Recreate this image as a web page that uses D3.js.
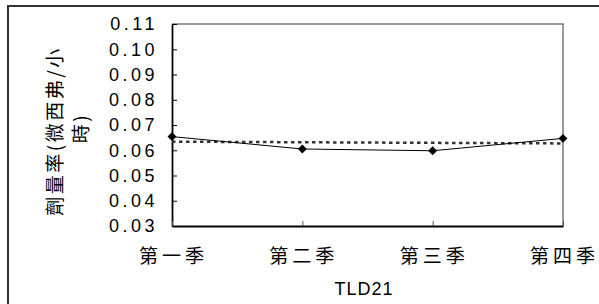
<html lang="zh-Hant">
<head>
<meta charset="utf-8">
<style>
	body { margin: 0; background: #fff; }
	svg { display: block; }
	text { fill: #000; }
</style>
</head>
<body>
<svg width="599" height="304"></svg>
<script src="https://d3js.org/d3.v7.min.js"></script>
<script>
	// data
	var quarters = ["第一季", "第二季", "第三季", "第四季"];
	var doseRate = [0.0654, 0.0605, 0.0598, 0.0647];
	// dashed reference line, start and end value
	var trendEnds = [0.0634, 0.0627];
	var yTicks = [0.03, 0.04, 0.05, 0.06, 0.07, 0.08, 0.09, 0.10, 0.11];
	var xTitle = "TLD21";
	var yTitleLines = ["劑量率(微西弗/小", "時)"];

	var svg = d3.select("svg");
	var plotL = 172, plotR = 563, plotT = 24, plotB = 226;
	var latinFont = "'Liberation Sans', Arial, sans-serif";
	var cjkFont = "'Noto Sans CJK TC', 'Liberation Sans', sans-serif";

	// outer chart border
	svg.append("rect")
	.attr("x", 8).attr("y", 6)
	.attr("width", 620).attr("height", 320)
	.attr("fill", "none")
	.attr("stroke", "#333")
	.attr("stroke-width", 2);

	var x = d3.scalePoint().domain(quarters).range([plotL, plotR]).padding(0);
	var y = d3.scaleLinear().domain([0.03, 0.11]).range([plotB, plotT]);

	// plot area frame (top and right edges)
	svg.append("path")
	.attr("d", "M" + plotL + "," + plotT + "H" + plotR + "V" + plotB)
	.attr("fill", "none")
	.attr("stroke", "#777")
	.attr("stroke-width", 1.5);

	// y axis
	var gy = svg.append("g")
	.attr("transform", "translate(" + plotL + ",0)")
	.call(d3.axisLeft(y).tickValues(yTicks)
		.tickFormat(d3.format(".2f"))
		.tickSizeInner(-5).tickSizeOuter(0).tickPadding(14));
	gy.select(".domain").attr("stroke", "#000").attr("stroke-width", 1.8);
	gy.selectAll(".tick line").attr("stroke", "#000").attr("stroke-width", 1);
	gy.selectAll(".tick text")
	.attr("font-family", latinFont)
	.attr("font-size", "18px")
	.attr("letter-spacing", "3.5px")
	.attr("fill", "#000");

	// x axis
	var gx = svg.append("g")
	.attr("transform", "translate(0," + plotB + ")")
	.call(d3.axisBottom(x).tickSizeInner(-5).tickSizeOuter(0).tickPadding(24));
	gx.select(".domain").attr("stroke", "#000").attr("stroke-width", 1.8);
	gx.selectAll(".tick line").attr("stroke", "#555").attr("stroke-width", 1);
	gx.selectAll(".tick text")
	.attr("font-family", cjkFont)
	.attr("font-size", "19px")
	.attr("letter-spacing", "4px")
	.attr("dx", "1px")
	.attr("fill", "#000");

	// dashed reference line
	svg.append("line")
	.attr("x1", x(quarters[0])).attr("y1", y(trendEnds[0]))
	.attr("x2", x(quarters[quarters.length - 1])).attr("y2", y(trendEnds[1]))
	.attr("stroke", "#333")
	.attr("stroke-width", 2.5)
	.attr("stroke-dasharray", "3.5,3.5");

	// series line
	var line = d3.line()
	.x(function(d, i) { return x(quarters[i]); })
	.y(function(d) { return y(d); });
	svg.append("path")
	.datum(doseRate)
	.attr("d", line)
	.attr("fill", "none")
	.attr("stroke", "#000")
	.attr("stroke-width", 1);

	// diamond markers
	svg.selectAll(".pt")
	.data(doseRate)
	.enter().append("path")
	.attr("class", "pt")
	.attr("d", d3.symbol(d3.symbolSquare, 40))
	.attr("transform", function(d, i) {
		return "translate(" + x(quarters[i]) + "," + y(d) + ") rotate(45)";
	})
	.attr("fill", "#000");

	// axis titles
	svg.append("text")
	.attr("x", 364).attr("y", 295)
	.attr("text-anchor", "middle")
	.attr("font-family", latinFont)
	.attr("font-size", "18px")
	.attr("letter-spacing", "1px")
	.text(xTitle);

	svg.selectAll(".ytitle")
	.data(yTitleLines)
	.enter().append("text")
	.attr("class", "ytitle")
	.attr("transform", function(d, i) {
		return "translate(" + (62 + i * 26) + "," + (i == 0 ? 131 : 128) + ") rotate(-90)";
	})
	.attr("text-anchor", "middle")
	.attr("font-family", cjkFont)
	.attr("font-size", "19px")
	.attr("letter-spacing", "2.5px")
	.text(function(d) { return d; });
</script>
</body>
</html>
